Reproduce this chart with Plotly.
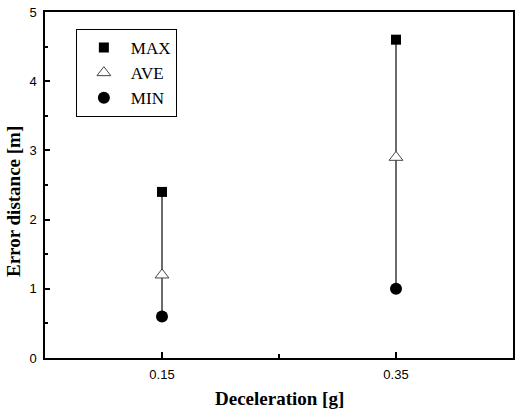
import plotly.graph_objects as go

deceleration = [0.15, 0.35]
max_err = [2.4, 4.6]
ave_err = [1.2, 2.9]
min_err = [0.6, 1.0]
x_ticks = [0.15, 0.35]
x_tick_labels = ["0.15", "0.35"]
y_ticks = [0, 1, 2, 3, 4, 5]

fig = go.Figure()

# vertical range lines min -> max for each category
for xv, lo, hi in zip(deceleration, min_err, max_err):
    fig.add_trace(go.Scatter(x=[xv, xv], y=[lo, hi], mode="lines",
                             line=dict(color="#3a3a3a", width=1.5),
                             showlegend=False, hoverinfo="skip"))

fig.add_trace(go.Scatter(x=deceleration, y=max_err, mode="markers", name="MAX",
                         marker=dict(symbol="square", size=10, color="black")))
fig.add_trace(go.Scatter(x=deceleration, y=ave_err, mode="markers", name="AVE",
                         marker=dict(symbol="triangle-up", size=12, color="white",
                                     line=dict(color="#444444", width=1))))
fig.add_trace(go.Scatter(x=deceleration, y=min_err, mode="markers", name="MIN",
                         marker=dict(symbol="circle", size=12, color="black")))

fig.update_layout(
    width=517, height=412,
    margin=dict(l=45, r=2, t=12, b=54),
    paper_bgcolor="white", plot_bgcolor="white",
    font=dict(family="Liberation Sans", color="black"),
    showlegend=True,
    legend=dict(x=(76 - 45) / 470, y=1 - (29 - 12) / 346, xanchor="left", yanchor="top",
                bordercolor="black", borderwidth=1, bgcolor="white",
                font=dict(family="Liberation Serif", size=17, color="black"),
                entrywidth=58, itemwidth=44),
    xaxis=dict(range=[0.05, 0.45], tickvals=x_ticks, ticktext=x_tick_labels,
               ticks="inside", ticklen=6, tickwidth=1.5, tickcolor="black",
               showline=True, linecolor="black", linewidth=1.5, mirror=True,
               showgrid=False, zeroline=False,
               tickfont=dict(family="Liberation Sans", size=13),
               ticklabelstandoff=4,
               minor=dict(tickvals=[0.25], ticks="inside", ticklen=4, tickcolor="black")),
    yaxis=dict(range=[0, 5], tickvals=y_ticks,
               ticks="inside", ticklen=5, tickwidth=1.5, tickcolor="black",
               showline=True, linecolor="black", linewidth=1.5, mirror=True,
               showgrid=False, zeroline=False,
               tickfont=dict(family="Liberation Sans", size=13),
               ticklabelstandoff=4,
               minor=dict(dtick=0.5, ticks="inside", ticklen=3, tickcolor="black")),
    annotations=[
        dict(text="<b>Error distance [m]</b>", textangle=-90, xref="paper", yref="paper",
             x=0, y=(358 - 202) / 346, xanchor="center", yanchor="middle", xshift=-32,
             showarrow=False, font=dict(family="Liberation Serif", size=19, color="black")),
        dict(text="<b>Deceleration [g]</b>", xref="paper", yref="paper",
             x=0.5, y=0, xanchor="center", yanchor="middle", yshift=-40,
             showarrow=False, font=dict(family="Liberation Serif", size=19, color="black")),
    ],
)

fig.write_html("out.html", config={"displayModeBar": False},
               post_script="document.body.style.margin='0';")
